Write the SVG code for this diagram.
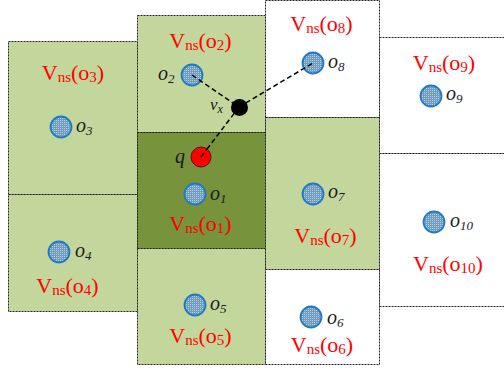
<svg xmlns="http://www.w3.org/2000/svg" width="504" height="368" viewBox="0 0 504 368">
<defs>
<pattern id="dots" width="2" height="2" patternUnits="userSpaceOnUse">
<rect width="2" height="2" fill="#6f9cbc"/>
<rect width="1" height="1" fill="#b6d0e0"/>
</pattern>
</defs>
<style>
.cell{stroke:#222;stroke-width:1;stroke-dasharray:2 1}
.lg{fill:#c3d69b}
.dg{fill:#77933c}
.wh{fill:#ffffff}
.obj{fill:url(#dots);stroke:#1f78c8;stroke-width:1.8}
.vns{font-family:"Liberation Serif","Times New Roman",serif;font-size:22px;fill:#ff0000}
.vns .s{font-size:15px}
.lab{font-family:"Liberation Serif","Times New Roman",serif;font-style:italic;font-size:20px;fill:#1a1a1a}
.lab .s{font-size:13px}
.conn{stroke:#000;stroke-width:1.5;stroke-dasharray:5 3;fill:none}
</style>
<rect width="504" height="368" fill="#ffffff"/>
<g id="cell-o9">
<rect class="cell wh" x="379.5" y="37.5" width="130" height="116"/>
<text class="vns" x="444" y="70" text-anchor="middle">V<tspan class="s" dy="2">ns</tspan><tspan dy="-2">(o</tspan><tspan class="s" dy="2">9</tspan><tspan dy="-2">)</tspan></text>
<circle class="obj" cx="431" cy="96" r="10.5"/>
<text class="lab" x="446" y="100">o<tspan class="s" dy="3">9</tspan></text>
</g>
<g id="cell-o10">
<rect class="cell wh" x="379.5" y="153.5" width="130" height="153"/>
<circle class="obj" cx="434" cy="222" r="10.5"/>
<text class="lab" x="450" y="227">o<tspan class="s" dy="3">10</tspan></text>
<text class="vns" x="448" y="271" text-anchor="middle">V<tspan class="s" dy="2">ns</tspan><tspan dy="-2">(o</tspan><tspan class="s" dy="2">10</tspan><tspan dy="-2">)</tspan></text>
</g>
<g id="cell-o3">
<rect class="cell lg" x="8.5" y="41.5" width="129" height="153"/>
<text class="vns" x="73" y="80" text-anchor="middle">V<tspan class="s" dy="2">ns</tspan><tspan dy="-2">(o</tspan><tspan class="s" dy="2">3</tspan><tspan dy="-2">)</tspan></text>
<circle class="obj" cx="61" cy="127" r="10.5"/>
<text class="lab" x="76" y="132">o<tspan class="s" dy="3">3</tspan></text>
</g>
<g id="cell-o4">
<rect class="cell lg" x="8.5" y="194.5" width="129" height="117"/>
<circle class="obj" cx="59" cy="252" r="10.5"/>
<text class="lab" x="75" y="257">o<tspan class="s" dy="3">4</tspan></text>
<text class="vns" x="67.5" y="293" text-anchor="middle">V<tspan class="s" dy="2">ns</tspan><tspan dy="-2">(o</tspan><tspan class="s" dy="2">4</tspan><tspan dy="-2">)</tspan></text>
</g>
<g id="cell-o2">
<rect class="cell lg" x="137.5" y="15.5" width="128" height="117"/>
<text class="vns" x="200.5" y="48" text-anchor="middle">V<tspan class="s" dy="2">ns</tspan><tspan dy="-2">(o</tspan><tspan class="s" dy="2">2</tspan><tspan dy="-2">)</tspan></text>
<circle class="obj" cx="192" cy="75" r="10.5"/>
<text class="lab" x="158" y="80">o<tspan class="s" dy="3">2</tspan></text>
</g>
<g id="cell-o1">
<rect class="cell dg" x="137.5" y="132.5" width="128" height="116"/>
<circle class="obj" cx="195" cy="194" r="10.5"/>
<text class="lab" x="210" y="200">o<tspan class="s" dy="3">1</tspan></text>
<text class="vns" x="200.5" y="231" text-anchor="middle">V<tspan class="s" dy="2">ns</tspan><tspan dy="-2">(o</tspan><tspan class="s" dy="2">1</tspan><tspan dy="-2">)</tspan></text>
</g>
<g id="cell-o5">
<rect class="cell lg" x="137.5" y="248.5" width="128" height="116"/>
<circle class="obj" cx="195" cy="305" r="10.5"/>
<text class="lab" x="210" y="310">o<tspan class="s" dy="3">5</tspan></text>
<text class="vns" x="200.5" y="343" text-anchor="middle">V<tspan class="s" dy="2">ns</tspan><tspan dy="-2">(o</tspan><tspan class="s" dy="2">5</tspan><tspan dy="-2">)</tspan></text>
</g>
<g id="cell-o8">
<rect class="cell wh" x="265.5" y="0.5" width="114" height="117"/>
<text class="vns" x="321.5" y="30.5" text-anchor="middle">V<tspan class="s" dy="2">ns</tspan><tspan dy="-2">(o</tspan><tspan class="s" dy="2">8</tspan><tspan dy="-2">)</tspan></text>
<circle class="obj" cx="313" cy="63" r="10.5"/>
<text class="lab" x="328" y="68">o<tspan class="s" dy="3">8</tspan></text>
</g>
<g id="cell-o7">
<rect class="cell lg" x="265.5" y="117.5" width="114" height="152"/>
<circle class="obj" cx="313" cy="194" r="10.5"/>
<text class="lab" x="328" y="198">o<tspan class="s" dy="3">7</tspan></text>
<text class="vns" x="325.5" y="243" text-anchor="middle">V<tspan class="s" dy="2">ns</tspan><tspan dy="-2">(o</tspan><tspan class="s" dy="2">7</tspan><tspan dy="-2">)</tspan></text>
</g>
<g id="cell-o6">
<rect class="cell wh" x="265.5" y="269.5" width="114" height="95"/>
<circle class="obj" cx="311" cy="317" r="10.5"/>
<text class="lab" x="327" y="324">o<tspan class="s" dy="3">6</tspan></text>
<text class="vns" x="322" y="351.5" text-anchor="middle">V<tspan class="s" dy="2">ns</tspan><tspan dy="-2">(o</tspan><tspan class="s" dy="2">6</tspan><tspan dy="-2">)</tspan></text>
</g>
<g id="connectors">
<line class="conn" x1="192" y1="75" x2="239" y2="107"/>
<line class="conn" x1="239" y1="107" x2="313" y2="63"/>
<line class="conn" x1="239" y1="107" x2="201" y2="157"/>
</g>
<g id="node-vx">
<circle cx="239.5" cy="107.5" r="8.5" fill="#000"/>
<text class="lab" x="210" y="110" style="font-size:17px">v<tspan class="s" dy="3" style="font-size:12px">x</tspan></text>
</g>
<g id="node-q">
<circle cx="201" cy="157" r="10" fill="#ff0000" stroke="#5a1010" stroke-width="1"/>
<line class="conn" x1="201" y1="157" x2="207" y2="149"/>
<text class="lab" x="175" y="163">q</text>
</g>
</svg>
